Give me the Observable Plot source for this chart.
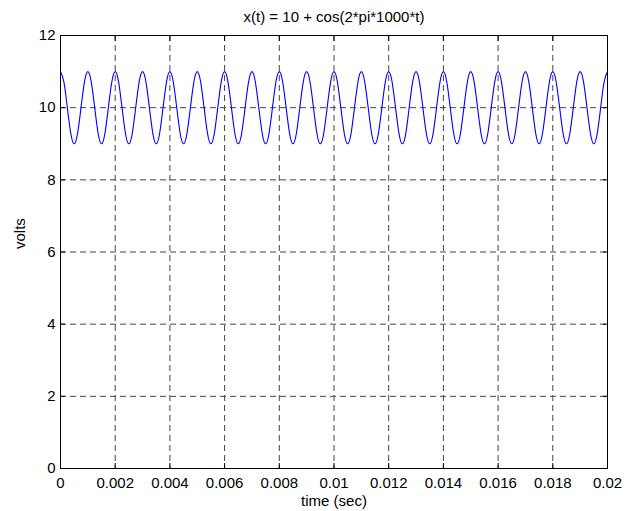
<!DOCTYPE html>
<html>
<head>
<meta charset="utf-8">
<script src="https://cdn.jsdelivr.net/npm/d3@7"></script>
<script src="https://cdn.jsdelivr.net/npm/@observablehq/plot@0.6"></script>
<style>
  html, body { margin: 0; padding: 0; background: #fff; }
  svg { display: block; }
</style>
</head>
<body>
<div id="chart"></div>
<script>
// ---- data ----
const titleText = "x(t) = 10 + cos(2*pi*1000*t)";
const xLabel = "time (sec)";
const yLabel = "volts";
const xTicks = [0, 0.002, 0.004, 0.006, 0.008, 0.01, 0.012, 0.014, 0.016, 0.018, 0.02];
const xTickLabels = ["0", "0.002", "0.004", "0.006", "0.008", "0.01", "0.012", "0.014", "0.016", "0.018", "0.02"];
const yTicks = [0, 2, 4, 6, 8, 10, 12];
const yTickLabels = ["0", "2", "4", "6", "8", "10", "12"];
const sampleStep = 0.000125; // seconds between samples
const volts = [
  11, 10.71, 10, 9.29, 9, 9.29, 10, 10.71,
  11, 10.71, 10, 9.29, 9, 9.29, 10, 10.71,
  11, 10.71, 10, 9.29, 9, 9.29, 10, 10.71,
  11, 10.71, 10, 9.29, 9, 9.29, 10, 10.71,
  11, 10.71, 10, 9.29, 9, 9.29, 10, 10.71,
  11, 10.71, 10, 9.29, 9, 9.29, 10, 10.71,
  11, 10.71, 10, 9.29, 9, 9.29, 10, 10.71,
  11, 10.71, 10, 9.29, 9, 9.29, 10, 10.71,
  11, 10.71, 10, 9.29, 9, 9.29, 10, 10.71,
  11, 10.71, 10, 9.29, 9, 9.29, 10, 10.71,
  11, 10.71, 10, 9.29, 9, 9.29, 10, 10.71,
  11, 10.71, 10, 9.29, 9, 9.29, 10, 10.71,
  11, 10.71, 10, 9.29, 9, 9.29, 10, 10.71,
  11, 10.71, 10, 9.29, 9, 9.29, 10, 10.71,
  11, 10.71, 10, 9.29, 9, 9.29, 10, 10.71,
  11, 10.71, 10, 9.29, 9, 9.29, 10, 10.71,
  11, 10.71, 10, 9.29, 9, 9.29, 10, 10.71,
  11, 10.71, 10, 9.29, 9, 9.29, 10, 10.71,
  11, 10.71, 10, 9.29, 9, 9.29, 10, 10.71,
  11, 10.71, 10, 9.29, 9, 9.29, 10, 10.71,
  11
];

const rows = volts.map((v, i) => ({t: i * sampleStep, v}));
const xFmt = d => xTickLabels[xTicks.findIndex(t => Math.abs(t - d) < 1e-9)];
const yFmt = d => yTickLabels[yTicks.indexOf(d)];

const FONT = "'Liberation Sans', Arial, Helvetica, sans-serif";
const FS = 15;

const chart = Plot.plot({
  width: 626,
  height: 511,
  marginLeft: 60,
  marginRight: 19,
  marginTop: 35,
  marginBottom: 43,
  style: {fontFamily: FONT, fontSize: FS + "px", color: "#000", background: "#fff"},
  x: {domain: [0, 0.02]},
  y: {domain: [0, 12]},
  marks: [
    Plot.gridX(xTicks, {stroke: "#444", strokeOpacity: 1, strokeWidth: 1, strokeDasharray: "6,4"}),
    Plot.gridY(yTicks, {stroke: "#444", strokeOpacity: 1, strokeWidth: 1, strokeDasharray: "6,4"}),
    Plot.line(rows, {x: "t", y: "v", stroke: "#0000ff", strokeWidth: 1.1, curve: "natural"}),
    Plot.frame({stroke: "#000", strokeWidth: 1}),
    Plot.axisX(xTicks, {anchor: "bottom", tickSize: -5, tickPadding: 14, tickFormat: xFmt, label: null, fontSize: FS, stroke: "#000"}),
    Plot.axisX(xTicks, {anchor: "top", tickSize: -5, tickFormat: () => "", label: null, stroke: "#000"}),
    Plot.axisY(yTicks, {anchor: "left", tickSize: -5, tickPadding: 10, tickFormat: yFmt, label: null, fontSize: FS, stroke: "#000"}),
    Plot.axisY(yTicks, {anchor: "right", tickSize: -5, tickFormat: () => "", label: null, stroke: "#000"}),
    Plot.text([titleText], {frameAnchor: "top", dy: -14, text: d => d, fontSize: FS, lineAnchor: "bottom", fill: "#000"}),
    Plot.text([xLabel], {frameAnchor: "bottom", dy: 27, text: d => d, fontSize: FS, lineAnchor: "top", fill: "#000"}),
    Plot.text([yLabel], {frameAnchor: "left", dx: -40, dy: -3, rotate: -90, text: d => d, fontSize: FS, fill: "#000"})
  ]
});

document.getElementById("chart").appendChild(chart);
</script>
</body>
</html>
